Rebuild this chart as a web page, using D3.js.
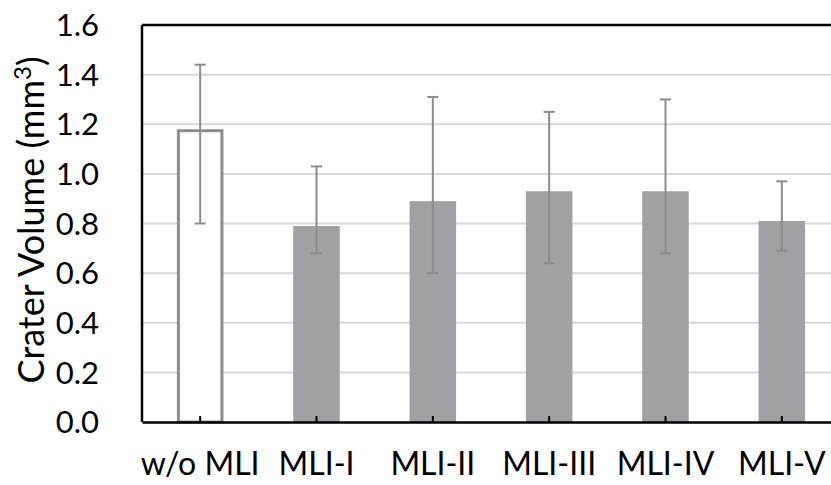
<!DOCTYPE html>
<html>
<head>
<meta charset="utf-8">
<script src="https://cdn.jsdelivr.net/npm/d3@7"></script>
<style>
  body { margin: 0; background: #fff; }
  text { font-family: Lato, "Open Sans", sans-serif; fill: #000; }
</style>
</head>
<body>
<svg id="chart"></svg>
<script>
// data
var categories = ['w/o MLI', 'MLI-I', 'MLI-II', 'MLI-III', 'MLI-IV', 'MLI-V'];
var volumes = [1.18, 0.79, 0.89, 0.93, 0.93, 0.81];
var errHigh = [1.44, 1.03, 1.31, 1.25, 1.30, 0.97];
var errLow = [0.80, 0.68, 0.60, 0.64, 0.68, 0.69];
var yTicks = [0, 0.2, 0.4, 0.6, 0.8, 1.0, 1.2, 1.4, 1.6];

var width = 831, height = 485;
var margin = { left: 142, top: 25 };
var plotBottom = 422;
var plotRight = 840;

var svg = d3.select('#chart')
	.attr('width', width)
	.attr('height', height);

var x = d3.scaleBand()
	.domain(categories)
	.range([margin.left, plotRight])
	.paddingInner(0.6)
	.paddingOuter(0.3);

var y = d3.scaleLinear()
	.domain([0, 1.6])
	.range([plotBottom, margin.top]);

// gridlines
svg.append('g')
	.selectAll('line')
	.data(yTicks.slice(1, -1))
	.enter()
	.append('line')
	.attr('x1', margin.left)
	.attr('x2', plotRight)
	.attr('y1', d => y(d))
	.attr('y2', d => y(d))
	.attr('stroke', '#d9d9d9')
	.attr('stroke-width', 2);

// bars
var rows = categories.map((c, i) => ({ cat: c, v: volumes[i], hi: errHigh[i], lo: errLow[i], i: i }));

svg.append('g')
	.selectAll('rect')
	.data(rows)
	.enter()
	.append('rect')
	.attr('x', d => d.i === 0 ? x(d.cat) + 1.5 : x(d.cat))
	.attr('y', d => d.i === 0 ? y(d.v) + 1.5 : y(d.v))
	.attr('width', d => d.i === 0 ? x.bandwidth() - 3 : x.bandwidth())
	.attr('height', d => d.i === 0 ? plotBottom - y(d.v) - 1.5 : plotBottom - y(d.v))
	.attr('fill', d => d.i === 0 ? '#fff' : '#a0a1a5')
	.attr('stroke', d => d.i === 0 ? '#8c8c8c' : 'none')
	.attr('stroke-width', 3);

// error bars
var eb = svg.append('g')
	.attr('stroke', '#8c8c8c')
	.attr('stroke-width', 2);

eb.selectAll('.stem')
	.data(rows)
	.enter()
	.append('line')
	.attr('x1', d => x(d.cat) + x.bandwidth() / 2)
	.attr('x2', d => x(d.cat) + x.bandwidth() / 2)
	.attr('y1', d => y(d.hi))
	.attr('y2', d => y(d.lo));

['hi', 'lo'].forEach(k => {
	eb.selectAll('.cap-' + k)
		.data(rows)
		.enter()
		.append('line')
		.attr('x1', d => x(d.cat) + x.bandwidth() / 2 - 5.5)
		.attr('x2', d => x(d.cat) + x.bandwidth() / 2 + 5.5)
		.attr('y1', d => y(d[k]))
		.attr('y2', d => y(d[k]));
});

// frame: top and left black lines
svg.append('line')
	.attr('x1', margin.left).attr('x2', plotRight)
	.attr('y1', margin.top).attr('y2', margin.top)
	.attr('stroke', '#000').attr('stroke-width', 2.5);
svg.append('line')
	.attr('x1', margin.left).attr('x2', margin.left)
	.attr('y1', margin.top).attr('y2', plotBottom)
	.attr('stroke', '#000').attr('stroke-width', 2.5);

// x axis
var xAxis = svg.append('g')
	.attr('transform', `translate(0,${plotBottom})`)
	.call(d3.axisBottom(x).tickSize(-6).tickSizeOuter(0).tickPadding(30));
xAxis.attr('font-size', null).attr('font-family', null);
xAxis.select('.domain').attr('stroke', '#000').attr('stroke-width', 2.5);
xAxis.selectAll('.tick line').attr('stroke', '#000').attr('stroke-width', 2);
xAxis.selectAll('text')
	.style('font-size', '32px')
	.attr('fill', '#000');

// y labels
svg.append('g')
	.selectAll('text')
	.data(yTicks)
	.enter()
	.append('text')
	.attr('x', 99)
	.attr('y', d => y(d))
	.attr('dy', '0.36em')
	.attr('text-anchor', 'end')
	.style('font-size', '31px')
	.text(d => d.toFixed(1));

// y title
var title = svg.append('text')
	.attr('transform', 'translate(44,220) rotate(-90)')
	.attr('text-anchor', 'middle')
	.style('font-size', '36px');
title.append('tspan').text('Crater Volume (mm');
title.append('tspan').attr('dy', -13).style('font-size', '24px').text('3');
title.append('tspan').attr('dy', 13).text(')');
</script>
</body>
</html>
